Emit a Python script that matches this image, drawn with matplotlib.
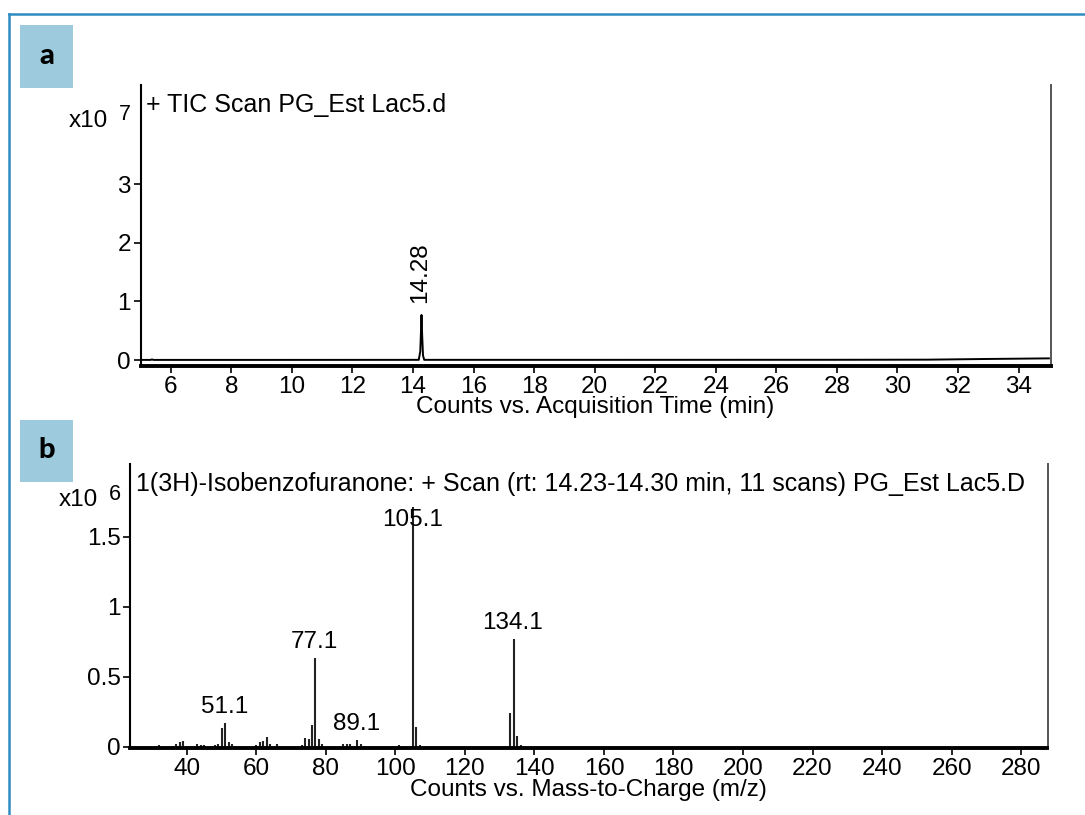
import matplotlib
matplotlib.use("Agg")
import matplotlib.pyplot as plt
from matplotlib.patches import Rectangle
from matplotlib.lines import Line2D

# TIC chromatogram (counts in units of 1e7)
tic_time = [5.0, 5.33, 5.38, 5.43, 9.0, 14.19, 14.24, 14.27, 14.28, 14.30,
            14.33, 14.37, 20.0, 28.0, 31.0, 33.0, 35.0]
tic_counts = [0.004, 0.004, 0.012, 0.004, 0.004, 0.005, 0.15, 0.6, 0.77, 0.45,
              0.08, 0.005, 0.005, 0.006, 0.008, 0.02, 0.03]
tic_peak_rt = 14.28
tic_peak_label = "14.28"

# mass spectrum (counts in units of 1e6)
ms_mz = [32, 37, 38, 39, 43, 44, 45, 48, 49, 50, 51, 52, 53,
         60, 61, 62, 63, 64, 66, 73, 74, 75, 76, 77, 78, 79,
         85, 86, 87, 89, 90, 91, 101, 105, 106, 107, 133, 134, 135, 136]
ms_counts = [0.012, 0.02, 0.035, 0.04, 0.02, 0.012, 0.012, 0.01, 0.02, 0.13, 0.17, 0.035, 0.018,
             0.012, 0.03, 0.04, 0.067, 0.02, 0.022, 0.015, 0.064, 0.055, 0.155, 0.63, 0.052, 0.02,
             0.02, 0.02, 0.02, 0.045, 0.018, 0.008, 0.01, 1.71, 0.138, 0.015, 0.24, 0.767, 0.076, 0.01]
ms_labels = ["51.1", "77.1", "89.1", "105.1", "134.1"]

tic_xticks = list(range(6, 35, 2))
tic_yticks = [0, 1, 2, 3]
ms_xticks = list(range(40, 281, 20))
ms_yticks = [0, 0.5, 1, 1.5]
ms_yticklabels = ["0", "0.5", "1", "1.5"]

W, H = 1085, 815
FS = 17.5
plt.rcParams["font.family"] = ["Liberation Sans", "DejaVu Sans"]


def fx(px):
    return px / W


def fy(py):
    return 1 - py / H


def style_axes(ax):
    ax.spines["top"].set_visible(False)
    ax.spines["left"].set_linewidth(1.5)
    ax.spines["bottom"].set_linewidth(2.8)
    ax.spines["right"].set_color("#555555")
    ax.spines["right"].set_linewidth(1.4)
    ax.tick_params(direction="out", length=5, width=1.2, labelsize=FS, pad=2, colors="black")
    ax.tick_params(axis="y", pad=2)


fig = plt.figure(figsize=(W / 100, H / 100), dpi=100)

# blue frame and panel letters
fig.add_artist(Line2D([fx(9), fx(9)], [fy(13.5), -0.05], color="#2f8cc0", lw=1.8))
fig.add_artist(Line2D([fx(9), 1.05], [fy(13.5), fy(13.5)], color="#2f8cc0", lw=1.8))
for letter, top in [("a", 25), ("b", 419.5)]:
    fig.add_artist(Rectangle((fx(20), fy(top + 62.7)), fx(52.7), 62.7 / H,
                             facecolor="#9dcadd", edgecolor="none"))
    fig.text(fx(46.5), fy(top + 31), letter, family=["Lato", "DejaVu Sans"], fontweight="black",
             fontsize=21, ha="center", va="center")

# panel a: TIC
ax1 = fig.add_axes([fx(140.5), fy(366), fx(1050.7 - 140.5), (366 - 85) / H])
ax1.plot(tic_time, tic_counts, color="black", lw=1.4)
ax1.set_xlim(5.0, 35.06)
ax1.set_ylim(-0.1, 4.69)
ax1.set_xticks(tic_xticks)
ax1.set_yticks(tic_yticks)
style_axes(ax1)
ax1.set_xlabel("Counts vs. Acquisition Time (min)", fontsize=FS, labelpad=-1)
ax1.text(0.006, 0.929, "+ TIC Scan PG_Est Lac5.d", transform=ax1.transAxes,
         fontsize=18, ha="left", va="center")
ax1.text(tic_peak_rt - 0.05, max(tic_counts) + 0.2, tic_peak_label, rotation=90,
         fontsize=FS, ha="center", va="bottom")
fig.text(fx(69), fy(121), "x10", fontsize=FS, ha="left", va="center")
fig.text(fx(119), fy(115), "7", fontsize=15.5, ha="left", va="center")

# panel b: mass spectrum
ax2 = fig.add_axes([fx(130.2), fy(748.3), fx(1047.5 - 130.2), (748.3 - 464) / H])
ax2.vlines(ms_mz, 0, ms_counts, color="#222222", lw=1.5)
ax2.set_xlim(23.7, 287.6)
ax2.set_ylim(-0.012, 2.02)
ax2.set_xticks(ms_xticks)
ax2.set_yticks(ms_yticks)
ax2.set_yticklabels(ms_yticklabels)
style_axes(ax2)
ax2.set_xlabel("Counts vs. Mass-to-Charge (m/z)", fontsize=FS, labelpad=-1)
ax2.text(0.0063, 0.93,
         "1(3H)-Isobenzofuranone: + Scan (rt: 14.23-14.30 min, 11 scans) PG_Est Lac5.D",
         transform=ax2.transAxes, fontsize=18, ha="left", va="center")
for lab in ms_labels:
    mz = float(lab)
    h = max(c for m, c in zip(ms_mz, ms_counts) if abs(m - mz) < 0.5)
    ax2.text(mz - 0.3, min(h + 0.115, 1.62), lab, fontsize=FS, ha="center", va="center")
fig.text(fx(59), fy(500), "x10", fontsize=FS, ha="left", va="center")
fig.text(fx(109), fy(494), "6", fontsize=15.5, ha="left", va="center")

fig.savefig("out.png", dpi=100, facecolor="white")
